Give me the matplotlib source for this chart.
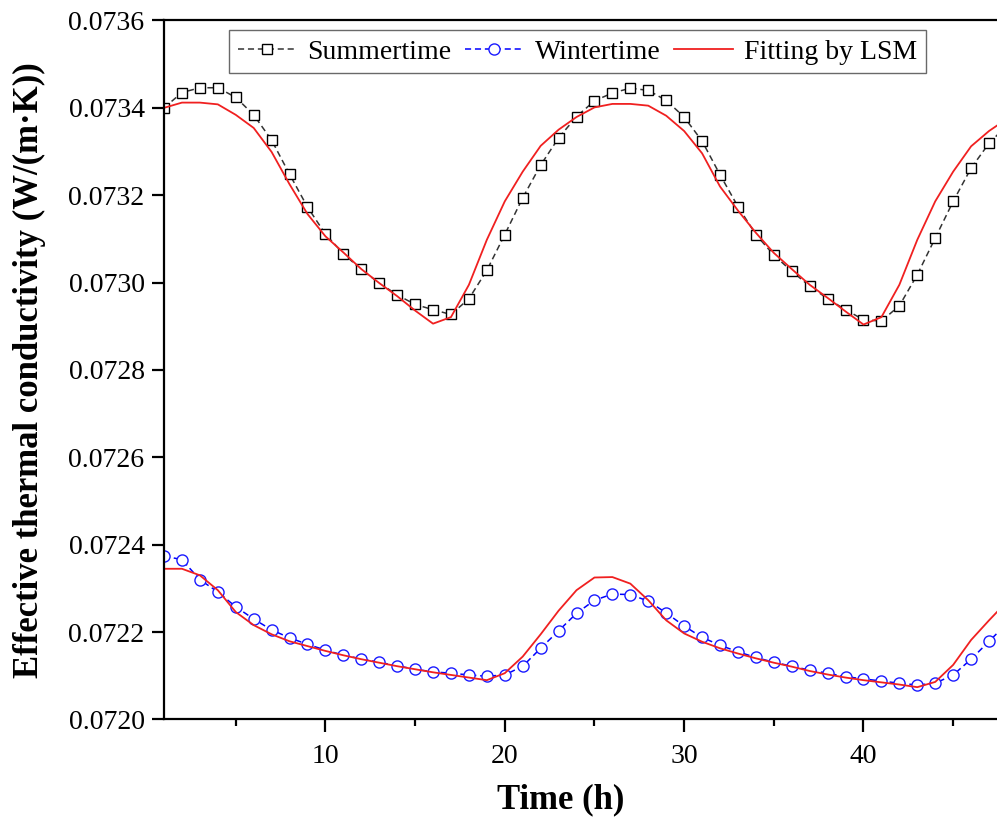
import matplotlib
matplotlib.use("Agg")
import matplotlib.pyplot as plt
import numpy as np

plt.rcParams['font.family'] = ['Liberation Serif', 'DejaVu Serif']
plt.rcParams['mathtext.fontset'] = 'stix'

hours = list(range(1, 49))

summer = [0.07340, 0.073435, 0.073446, 0.073446, 0.073424, 0.073384, 0.073326, 0.073248,
          0.073173, 0.073111, 0.073066, 0.073030, 0.072999, 0.072972, 0.072950, 0.072938,
          0.072927, 0.072963, 0.073028, 0.073110, 0.073194, 0.073269, 0.073331, 0.073380,
          0.073416, 0.073434, 0.073445, 0.073440, 0.073417, 0.073379, 0.073324, 0.073247,
          0.073174, 0.073110, 0.073063, 0.073026, 0.072992, 0.072963, 0.072938, 0.072915,
          0.072912, 0.072947, 0.073018, 0.073102, 0.073186, 0.073262, 0.073319, 0.073360]

summer_fit = [0.07340, 0.073412, 0.073412, 0.073408, 0.073384, 0.073354, 0.073299, 0.073225,
              0.073157, 0.073106, 0.073069, 0.073031, 0.072999, 0.072969, 0.072936, 0.072906,
              0.072921, 0.072995, 0.073098, 0.073186, 0.073254, 0.073313, 0.073350, 0.073379,
              0.073401, 0.073409, 0.073409, 0.073405, 0.073382, 0.073347, 0.073296, 0.073220,
              0.073165, 0.073114, 0.073068, 0.073031, 0.072995, 0.072965, 0.072934, 0.072904,
              0.072921, 0.072995, 0.073098, 0.073186, 0.073254, 0.073312, 0.073347, 0.073375]

winter = [0.072374, 0.072366, 0.072320, 0.072292, 0.072258, 0.072230, 0.072205, 0.072187,
          0.072172, 0.072159, 0.072147, 0.072139, 0.072131, 0.072123, 0.072115, 0.072109,
          0.072106, 0.072102, 0.072099, 0.072102, 0.072122, 0.072163, 0.072203, 0.072243,
          0.072273, 0.072287, 0.072286, 0.072271, 0.072244, 0.072214, 0.072188, 0.072170,
          0.072155, 0.072142, 0.072131, 0.072122, 0.072113, 0.072106, 0.072098, 0.072093,
          0.072088, 0.072083, 0.072079, 0.072083, 0.072102, 0.072138, 0.072179, 0.072220]

winter_fit = [0.072345, 0.072345, 0.072330, 0.072296, 0.072246, 0.072216, 0.072195, 0.072179,
              0.072168, 0.072157, 0.072147, 0.072138, 0.072130, 0.072122, 0.072115, 0.072108,
              0.072102, 0.072096, 0.072090, 0.072106, 0.072144, 0.072195, 0.072249, 0.072296,
              0.072325, 0.072326, 0.072311, 0.072273, 0.072227, 0.072197, 0.072178, 0.072163,
              0.072151, 0.072140, 0.072130, 0.072121, 0.072111, 0.072103, 0.072096, 0.072090,
              0.072085, 0.072080, 0.072074, 0.072086, 0.072125, 0.072182, 0.072227, 0.072270]

yticks = [0.0720, 0.0722, 0.0724, 0.0726, 0.0728, 0.0730, 0.0732, 0.0734, 0.0736]
xticks = [10, 20, 30, 40]

fig = plt.figure(figsize=(9.97, 8.22), dpi=100)
ax = fig.add_axes([0.1645, 0.1247, 0.8455, 0.8504])

ax.plot(hours, summer, color='#333333', linestyle=(0, (4, 2.5)), linewidth=1.1,
        marker='s', markersize=6.8, markerfacecolor='white', markeredgecolor='black',
        markeredgewidth=1.0, label='Summertime')
ax.plot(hours, winter, color='#0000ff', linestyle=(0, (4, 2.5)), linewidth=1.1,
        marker='o', markersize=8, markerfacecolor='white', markeredgecolor='#1a1aff',
        markeredgewidth=1.0, label='Wintertime')
ax.plot(hours, summer_fit, color='#f02020', linewidth=1.3, label='Fitting by LSM')
ax.plot(hours, winter_fit, color='#f02020', linewidth=1.3)

ax.set_xlim(1, 48)
ax.set_ylim(0.0720, 0.0736)
ax.set_yticks(yticks)
ax.set_yticklabels([f"{v:.4f}" for v in yticks])
ax.set_xticks(xticks)
ax.set_xticks([5, 15, 25, 35, 45], minor=True)

for s in ax.spines.values():
    s.set_linewidth(1.6)
ax.tick_params(axis='both', which='major', direction='out', length=9, width=1.6,
               labelsize=20, pad=5)
ax.tick_params(axis='x', which='minor', direction='out', length=5, width=1.6)
ax.tick_params(axis='x', which='major', pad=9)

ax.set_xlabel('Time (h)', fontsize=25, fontweight='bold')
ax.xaxis.set_label_coords(0.471, -0.092)
ax.set_ylabel('Effective thermal conductivity (W/(m·K))', fontsize=25, fontweight='bold')
ax.yaxis.set_label_coords(-0.14, 0.5)

leg = ax.legend(loc='upper left', bbox_to_anchor=(0.077, 0.986), ncol=3, fontsize=20,
                frameon=True, fancybox=False, handlelength=2.1, columnspacing=0.5,
                handletextpad=0.4, borderpad=0.32, borderaxespad=0)
leg.get_frame().set_edgecolor('#444444')
leg.get_frame().set_linewidth(1.0)

fig.savefig('out.png', dpi=100)
